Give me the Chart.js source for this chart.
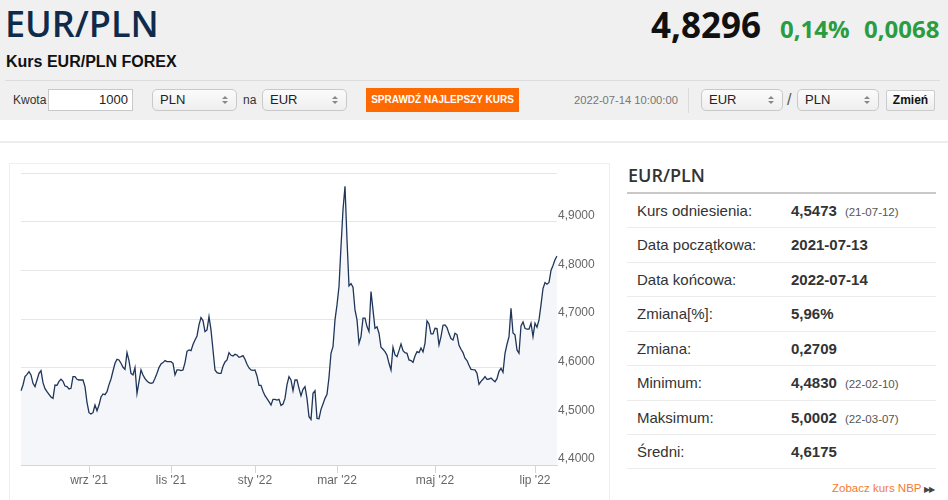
<!DOCTYPE html>
<html lang="pl">
<head>
<meta charset="utf-8">
<title>Kurs EUR/PLN</title>
<script src="https://cdn.jsdelivr.net/npm/chart.js@4.4.0/dist/chart.umd.min.js"></script>
<style>
    body { margin: 0; width: 948px; height: 500px; overflow: hidden; background: #fff; font-family: Arial, "Liberation Sans", sans-serif; color: #333; position: relative; }
    .abs { position: absolute; white-space: nowrap; }
    #header { left: 0; top: 0; width: 948px; height: 120px; background: #f0f0f0; }
    #title { left: 5px; top: 6px; font: 600 36px/36px "Open Sans", sans-serif; color: #0e2b4c; }
    #subtitle { left: 6px; top: 54px; font: bold 16px/16px Arial, "Liberation Sans", sans-serif; color: #111; }
    #price { left: 651px; top: 7px; font: bold 35px/35px "Open Sans", sans-serif; color: #111; }
    .chg { top: 17px; font: bold 24px/24px "Open Sans", sans-serif; color: #2b9c3f; }
    .lbl { font-size: 12px; line-height: 22px; top: 89px; color: #333; }
    .box { top: 89px; height: 22px; box-sizing: border-box; border: 1px solid #c9c9c9; font-size: 13px; line-height: 20px; color: #222; }
    .sel { border-radius: 5px; background: linear-gradient(#fbfbfb, #efefef); padding-left: 7px; }
    .sel::before, .sel::after { content: ""; position: absolute; right: 8px; border-left: 3px solid transparent; border-right: 3px solid transparent; }
    .sel::before { top: 6px; border-bottom: 3px solid #888; }
    .sel::after { top: 11px; border-top: 3px solid #888; }
    #btn { left: 366px; top: 88px; width: 153px; height: 24px; background: #ff6a00; color: #fff; font: bold 10px/24px Arial, "Liberation Sans", sans-serif; text-align: center; }
    #stamp { left: 574px; top: 89px; font-size: 11.2px; line-height: 22px; color: #777; }
    #zmien { left: 886px; top: 90px; width: 49px; height: 21px; box-sizing: border-box; border: 1px solid #ccc; border-radius: 2px; background: linear-gradient(#fff, #ececec); font: bold 12px/19px Arial, "Liberation Sans", sans-serif; text-align: center; color: #111; }
    #chartBox { left: 9px; top: 163px; width: 601px; height: 340px; box-sizing: border-box; border: 1px solid #efefef; }
    #chart { position: absolute; left: 0; top: 0; }
    #panelTitle { left: 628px; top: 166px; font: 600 18px/18px "Open Sans", sans-serif; color: #333; }
    .row { left: 627px; width: 309px; height: 34.43px; box-sizing: border-box; border-bottom: 1px solid #ececec; line-height: 33.4px; font-size: 15px; }
    .row .k { position: absolute; left: 10px; }
    .row .v { position: absolute; left: 164px; font-weight: bold; }
    .row .d { font-weight: normal; font-size: 11.5px; color: #555; margin-left: 8px; }
</style>
</head>
<body>
<div id="header" class="abs"></div>
<div id="title" class="abs">EUR/PLN</div>
<div id="subtitle" class="abs">Kurs EUR/PLN FOREX</div>
<div id="price" class="abs">4,8296</div>
<div class="abs chg" style="left: 780px;">0,14%</div>
<div class="abs chg" style="left: 864px;">0,0068</div>
<div class="abs" style="left: 5px; top: 80px; width: 935px; height: 1px; background: #dcdcdc;"></div>

<div class="abs lbl" style="left: 13px;">Kwota</div>
<div class="abs box" style="left: 48px; width: 85px; background: #fff; text-align: right; padding-right: 4px;">1000</div>
<div class="abs box sel" style="left: 152px; width: 85px;">PLN</div>
<div class="abs lbl" style="left: 243px;">na</div>
<div class="abs box sel" style="left: 262px; width: 85px;">EUR</div>
<div id="btn" class="abs">SPRAWDŹ NAJLEPSZY KURS</div>
<div id="stamp" class="abs">2022-07-14 10:00:00</div>
<div class="abs" style="left: 688px; top: 88px; width: 1px; height: 25px; background: #dcdcdc;"></div>
<div class="abs box sel" style="left: 701px; width: 82px;">EUR</div>
<div class="abs lbl" style="left: 787px; font-size: 16px; color: #555;">/</div>
<div class="abs box sel" style="left: 797px; width: 82px;">PLN</div>
<div id="zmien" class="abs">Zmień</div>

<div class="abs" style="left: 0; top: 141px; width: 948px; height: 2px; background: #ededed;"></div>

<div id="chartBox" class="abs">
    <canvas id="chart" width="600" height="336"></canvas>
</div>

<div id="panelTitle" class="abs">EUR/PLN</div>
<div class="abs" style="left: 627px; top: 192px; width: 309px; height: 2px; background: #c8c8c8;"></div>
<div id="rows"></div>
<div class="abs" style="left: 832px; top: 480px; font-size: 11.5px; line-height: 16px; color: #f47a35;">Zobacz kurs NBP <span style="color: #444; font-size: 8px; letter-spacing: -1px;">▶▶</span></div>

<script>
// kurs EUR/PLN, odczyt z wykresu (lip '21 - lip '22)
var values = [
    4.5527, 4.5644, 4.5815, 4.5863, 4.5918, 4.5850, 4.5678, 4.5610, 4.5747, 4.5884,
    4.5939, 4.5692, 4.5568, 4.5507, 4.5452, 4.5397, 4.5369, 4.5644, 4.5637, 4.5719,
    4.5761, 4.5719, 4.5623, 4.5610, 4.5562, 4.5575, 4.5815, 4.5815, 4.5761, 4.5747,
    4.5747, 4.5747, 4.5610, 4.5287, 4.5075, 4.5047, 4.5075, 4.5232, 4.5116, 4.5232,
    4.5397, 4.5459, 4.5445, 4.5507, 4.5651, 4.5767, 4.5932, 4.6090, 4.6172, 4.6158,
    4.6090, 4.6007, 4.5966, 4.6309, 4.6145, 4.5884, 4.5850, 4.6001, 4.5472, 4.5712,
    4.5953, 4.5850, 4.5774, 4.5726, 4.5692, 4.5678, 4.5692, 4.5781, 4.5884, 4.6001,
    4.6076, 4.6104, 4.6145, 4.6124, 4.6124, 4.6124, 4.6090, 4.5850, 4.5953, 4.5953,
    4.5939, 4.5953, 4.6104, 4.6337, 4.6364, 4.6350, 4.6474, 4.6570, 4.6652, 4.6879,
    4.7030, 4.6968, 4.6742, 4.6776, 4.7050, 4.6776, 4.6364, 4.5953, 4.5898, 4.5884,
    4.5884, 4.6028, 4.6117, 4.6158, 4.6309, 4.6254, 4.6241, 4.6275, 4.6261, 4.6213,
    4.6227, 4.6248, 4.6172, 4.6069, 4.5994, 4.5953, 4.5946, 4.5953, 4.5829, 4.5637,
    4.5637, 4.5514, 4.5424, 4.5363, 4.5301, 4.5232, 4.5349, 4.5349, 4.5335, 4.5349,
    4.5225, 4.5253, 4.5369, 4.5651, 4.5815, 4.5747, 4.5527, 4.5747, 4.5747, 4.5575,
    4.5424, 4.5555, 4.5610, 4.5369, 4.4992, 4.4937, 4.5472, 4.5527, 4.4958, 4.4951,
    4.5143, 4.5253, 4.5369, 4.5452, 4.5802, 4.6296, 4.6433, 4.6982, 4.7290, 4.7668,
    4.8491, 4.9245, 4.9726, 4.8628, 4.7681, 4.7729, 4.7654, 4.7187, 4.6982, 4.6501,
    4.6639, 4.7016, 4.7016, 4.6844, 4.6742, 4.7565, 4.7187, 4.6810, 4.6838, 4.6707,
    4.6419, 4.6378, 4.6330, 4.6254, 4.6090, 4.5953, 4.6419, 4.6261, 4.6227, 4.6350,
    4.6488, 4.6350, 4.6309, 4.6296, 4.6158, 4.6145, 4.6110, 4.6241, 4.6330, 4.6309,
    4.6405, 4.6323, 4.6501, 4.6961, 4.6899, 4.6693, 4.6693, 4.6810, 4.6803, 4.6467,
    4.6639, 4.6872, 4.6879, 4.6824, 4.6700, 4.6597, 4.6570, 4.6707, 4.6680, 4.6460,
    4.6378, 4.6309, 4.6193, 4.6145, 4.6049, 4.5966, 4.5959, 4.5953, 4.5884, 4.5658,
    4.5719, 4.5761, 4.5815, 4.5761, 4.5767, 4.5788, 4.5747, 4.5712, 4.5774, 4.5925,
    4.5987, 4.5905, 4.6296, 4.6481, 4.6639, 4.7222, 4.6714, 4.6673, 4.6364, 4.6296,
    4.6858, 4.6940, 4.6810, 4.6790, 4.6790, 4.6913, 4.6639, 4.6913, 4.6831, 4.6982,
    4.7290, 4.7626, 4.7750, 4.7716, 4.7750, 4.7997, 4.8100, 4.8216, 4.8296
];
var tickIndex = [34, 75, 117, 158, 207, 257];
var tickLabels = ["wrz '21", "lis '21", "sty '22", "mar '22", "maj '22", "lip '22"];
var yMin = 4.4, yMax = 5.0, yStep = 0.1;

var statLabels = ['Kurs odniesienia:', 'Data początkowa:', 'Data końcowa:', 'Zmiana[%]:', 'Zmiana:', 'Minimum:', 'Maksimum:', 'Średni:'];
var statValues = ['4,5473', '2021-07-13', '2022-07-14', '5,96%', '0,2709', '4,4830', '5,0002', '4,6175'];
var statDates = ['(21-07-12)', '', '', '', '', '(22-02-10)', '(22-03-07)', ''];

function buildStats() {
    var html = '';
    for (var i = 0; i < statLabels.length; i++) {
        var top = 194 + i * 34.43;
        html += '<div class="abs row" style="top: ' + top + 'px;">' +
            '<span class="k">' + statLabels[i] + '</span>' +
            '<span class="v">' + statValues[i] +
            (statDates[i] ? '<span class="d">' + statDates[i] + '</span>' : '') +
            '</span></div>';
    }
    document.getElementById('rows').innerHTML = html;
}

function createChart() {
    Chart.defaults.font.family = 'Arial, "Liberation Sans", sans-serif';
    var ctx = document.getElementById('chart').getContext('2d');
    new Chart(ctx, {
        type: 'line',
        data: {
            labels: values.map(function (v, i) { return i; }),
            datasets: [{
                data: values,
                borderColor: '#1f3559',
                borderWidth: 1.3,
                backgroundColor: '#f4f6f9',
                fill: 'start',
                pointRadius: 0,
                tension: 0
            }]
        },
        options: {
            responsive: false,
            animation: false,
            events: [],
            layout: { padding: { left: 11, top: 9, right: 0, bottom: 0 } },
            plugins: { legend: { display: false }, tooltip: { enabled: false } },
            scales: {
                x: {
                    type: 'category',
                    offset: false,
                    afterBuildTicks: function (axis) {
                        axis.ticks = tickIndex.map(function (v) { return { value: v }; });
                    },
                    afterFit: function (axis) { axis.height = 35; },
                    ticks: {
                        autoSkip: false,
                        maxRotation: 0,
                        padding: 0,
                        color: '#666',
                        font: { size: 12 },
                        callback: function (v, i) { return tickLabels[i]; }
                    },
                    grid: { drawOnChartArea: false, drawTicks: true, tickLength: 8, color: '#ccd6eb' },
                    border: { color: '#ccd6eb' }
                },
                y: {
                    position: 'right',
                    min: yMin,
                    max: yMax,
                    afterFit: function (axis) { axis.width = 53; },
                    ticks: {
                        stepSize: yStep,
                        padding: 1,
                        labelOffset: -6,
                        color: '#666',
                        font: { size: 12 },
                        callback: function (v) {
                            return v > yMax - 0.001 ? '' : v.toFixed(4).replace('.', ',');
                        }
                    },
                    grid: { color: '#e6e6e6', drawTicks: false },
                    border: { display: false }
                }
            }
        }
    });
}

buildStats();
createChart();
</script>
</body>
</html>
